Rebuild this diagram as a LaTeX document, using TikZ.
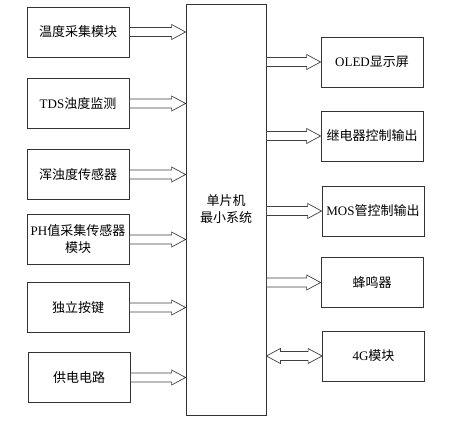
\documentclass[tikz,border=0pt]{standalone}
\usepackage{fontspec}
\setmainfont{Liberation Serif}
\newfontfamily\cjk{Noto Sans CJK SC}
\newcommand\lat[1]{{\rmfamily #1}}
\usetikzlibrary{calc}
\begin{document}
\begin{tikzpicture}[x=1pt,y=1pt,
	box/.style={draw=black!80, line width=0.8pt, minimum width=102pt, minimum height=50pt, inner sep=0pt, align=center, font=\cjk\fontsize{13}{17}\selectfont},
	fatarrow/.style={draw=black!75, line width=0.7pt, to path={let \p1=(\tikztostart), \p2=(\tikztotarget) in
		(\x1,\y1+4.5) -- (\x2-14,\y1+4.5) -- (\x2-14,\y1+7.5) -- (\x2,\y1) -- (\x2-14,\y1-7.5) -- (\x2-14,\y1-4.5) -- (\x1,\y1-4.5) -- cycle}},
	fatboth/.style={draw=black!75, line width=0.7pt, to path={let \p1=(\tikztostart), \p2=(\tikztotarget) in
		(\x1,\y1) -- (\x1+14,\y1+7.5) -- (\x1+14,\y1+4.5) -- (\x2-14,\y1+4.5) -- (\x2-14,\y1+7.5) -- (\x2,\y1) -- (\x2-14,\y1-7.5) -- (\x2-14,\y1-4.5) -- (\x1+14,\y1-4.5) -- (\x1+14,\y1-7.5) -- cycle}}]
	\useasboundingbox (0,0) rectangle (449,-425);
	% centre
	\node [box, minimum width=80pt, minimum height=411pt] (mcu) at (226,-209.5) {单片机\\最小系统};
	% inputs
	\node [box] (temp) at (78,-32) {温度采集模块};
	\node [box] (tds) at (78,-103.5) {\lat{TDS}浊度监测};
	\node [box] (turb) at (78,-174.5) {浑浊度传感器};
	\node [box] (ph) at (78,-239.5) {\lat{PH}值采集传感器\\模块};
	\node [box] (key) at (78,-307.5) {独立按键};
	\node [box] (power) at (79,-377.5) {供电电路};
	% outputs
	\node [box] (oled) at (372,-62) {\lat{OLED}显示屏};
	\node [box] (relay) at (372,-136) {继电器控制输出};
	\node [box] (mos) at (373,-211) {\lat{MOS}管控制输出};
	\node [box] (buzzer) at (372,-282.5) {蜂鸣器};
	\node [box] (gsm) at (373.5,-356) {\lat{4G}模块};

	\foreach \b in {temp,tds,turb,ph,key,power}
		\draw [fatarrow] (\b.east) to (\b.east -| mcu.west);
	\foreach \b in {oled,relay,mos,buzzer}
		\draw [fatarrow] (mcu.east |- \b.west) to (\b.west);
	\draw [fatboth] (mcu.east |- gsm.west) to (gsm.west);
\end{tikzpicture}
\end{document}
